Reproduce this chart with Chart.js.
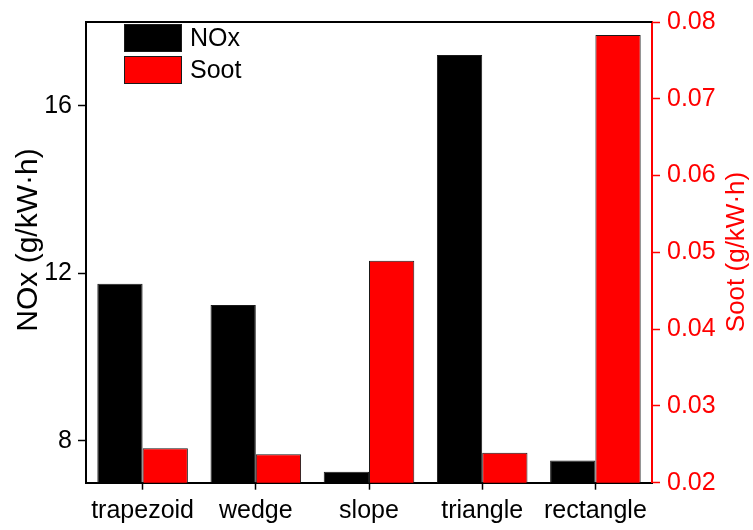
<!DOCTYPE html>
<html>
<head>
<meta charset="utf-8">
<script src="https://cdn.jsdelivr.net/npm/chart.js@4/dist/chart.umd.min.js"></script>
<style>
  html, body { margin: 0; padding: 0; background: #ffffff; }
  #wrap { width: 753px; height: 530px; position: relative; }
</style>
</head>
<body>
<div id="wrap"><canvas id="c" width="753" height="530"></canvas></div>
<script>
// Emission results per chamber shape
const categories = ['trapezoid', 'wedge', 'slope', 'triangle', 'rectangle'];
const noxValues  = [11.75, 11.24, 7.26, 17.21, 7.53];      // g/kW·h
const sootValues = [0.0245, 0.0237, 0.0489, 0.0239, 0.0783]; // g/kW·h
const noxTicks   = [8, 12, 16];
const noxTitle   = 'NOx (g/kW·h)';
const sootTitle  = 'Soot (g/kW·h)';

const FONT = '"Liberation Sans", Arial, sans-serif';
const RED = '#ff0000';

// Axis titles, plot frame top edge and the in-plot legend
const decorations = {
  id: 'decorations',
  afterDraw(chart) {
    const ctx = chart.ctx;
    const a = chart.chartArea;
    ctx.save();
    // top edge of the frame
    ctx.strokeStyle = '#000';
    ctx.lineWidth = 2;
    ctx.beginPath();
    ctx.moveTo(a.left - 1, a.top);
    ctx.lineTo(a.right, a.top);
    ctx.stroke();

    // left axis title
    ctx.fillStyle = '#000';
    ctx.font = '30px ' + FONT;
    ctx.textAlign = 'center';
    ctx.textBaseline = 'alphabetic';
    ctx.save();
    ctx.translate(36.5, 240);
    ctx.rotate(-Math.PI / 2);
    ctx.fillText(noxTitle, 0, 0);
    ctx.restore();

    // right axis title
    ctx.fillStyle = RED;
    ctx.font = '26px ' + FONT;
    ctx.save();
    ctx.translate(743.5, 252);
    ctx.rotate(-Math.PI / 2);
    ctx.fillText(sootTitle, 0, 0);
    ctx.restore();

    // legend
    const boxX = 124, boxW = 58, boxH = 28;
    const rows = [24, 56];
    ctx.font = '25px ' + FONT;
    ctx.textAlign = 'left';
    ctx.textBaseline = 'middle';
    chart.data.datasets.forEach((ds, i) => {
      const y = rows[i];
      ctx.fillStyle = ds.backgroundColor;
      ctx.fillRect(boxX, y, boxW, boxH);
      ctx.strokeStyle = '#1a1a1a';
      ctx.lineWidth = 1;
      ctx.strokeRect(boxX + 0.5, y + 0.5, boxW - 1, boxH - 1);
      ctx.fillStyle = '#000';
      ctx.fillText(ds.label, 190, y + boxH / 2 + 1);
    });
    ctx.restore();
  }
};

new Chart(document.getElementById('c'), {
  type: 'bar',
  data: {
    labels: categories,
    datasets: [
      {
        label: 'NOx',
        data: noxValues,
        yAxisID: 'y',
        backgroundColor: '#000000',
        borderColor: '#1a1a1a',
        borderWidth: 1,
        categoryPercentage: 0.8,
        barPercentage: 1.0
      },
      {
        label: 'Soot',
        data: sootValues,
        yAxisID: 'y1',
        backgroundColor: RED,
        borderColor: '#1a1a1a',
        borderWidth: 1,
        categoryPercentage: 0.8,
        barPercentage: 1.0
      }
    ]
  },
  options: {
    responsive: false,
    animation: false,
    devicePixelRatio: 1,
    layout: { padding: { top: 22, left: 0, right: 0, bottom: 0 } },
    plugins: {
      legend: { display: false },
      tooltip: { enabled: false }
    },
    scales: {
      x: {
        offset: true,
        grid: {
          offset: false,
          drawOnChartArea: false,
          drawTicks: true,
          tickLength: 7,
          tickColor: '#000',
          tickWidth: 1.5
        },
        border: { display: true, color: '#000', width: 2 },
        ticks: {
          color: '#000',
          font: { family: FONT, size: 25 },
          padding: 6,
          maxRotation: 0,
          autoSkip: false
        },
        afterFit(scale) { scale.height = 47.3; }
      },
      y: {
        position: 'left',
        min: 7,
        max: 18,
        afterBuildTicks(scale) {
          scale.ticks = noxTicks.map(v => ({ value: v }));
        },
        grid: {
          drawOnChartArea: false,
          drawTicks: true,
          tickLength: 8,
          tickColor: '#000',
          tickWidth: 1.5
        },
        border: { display: true, color: '#000', width: 2 },
        ticks: {
          color: '#000',
          font: { family: FONT, size: 25 },
          padding: 6
        },
        afterFit(scale) { scale.width = 86; }
      },
      y1: {
        position: 'right',
        min: 0.02,
        max: 0.08,
        grid: {
          drawOnChartArea: false,
          drawTicks: true,
          tickLength: 8,
          tickColor: RED,
          tickWidth: 1.5
        },
        border: { display: true, color: RED, width: 2 },
        ticks: {
          stepSize: 0.01,
          color: RED,
          font: { family: FONT, size: 25 },
          padding: 7,
          callback: v => Number(v).toFixed(2)
        },
        afterFit(scale) { scale.width = 101; }
      }
    }
  },
  plugins: [decorations]
});
</script>
</body>
</html>
